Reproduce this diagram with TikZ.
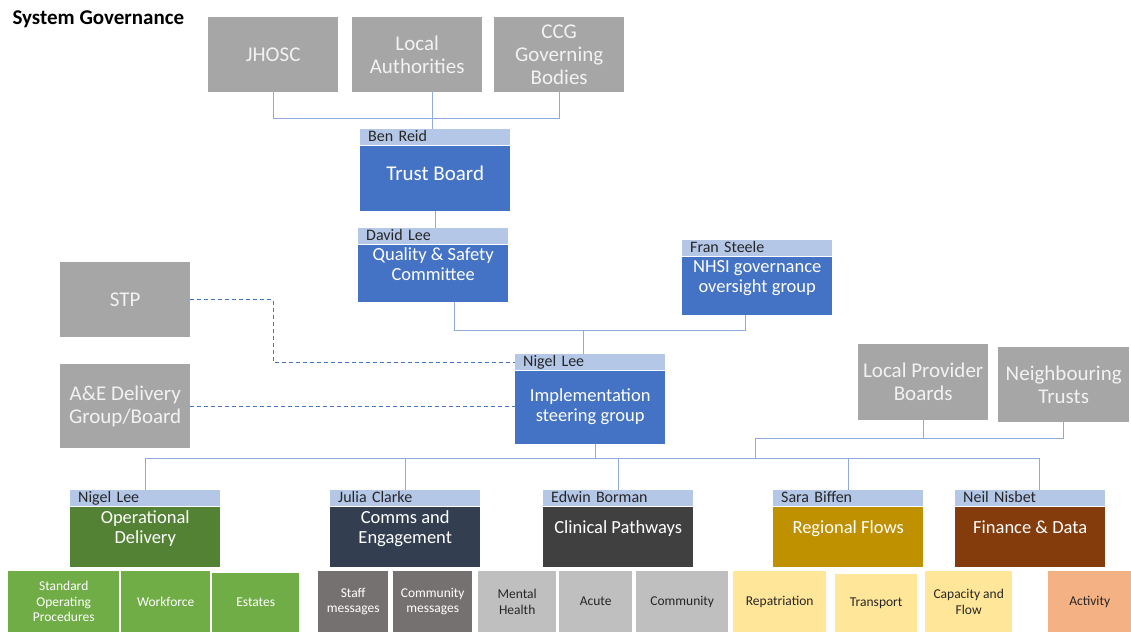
\documentclass[tikz,border=0pt]{standalone}
\usepackage{fontspec}
\setmainfont{Carlito}
\definecolor{boxgray}{HTML}{A6A6A6}
\definecolor{headblue}{HTML}{B4C7E7}
\definecolor{mainblue}{HTML}{4472C4}
\definecolor{linkblue}{HTML}{8FAADC}
\definecolor{opgreen}{HTML}{548235}
\definecolor{commsnavy}{HTML}{333F50}
\definecolor{clingray}{HTML}{404040}
\definecolor{regold}{HTML}{BF9000}
\definecolor{finbrown}{HTML}{843C0C}
\definecolor{subgreen}{HTML}{70AD47}
\definecolor{subdark}{HTML}{767171}
\definecolor{sublight}{HTML}{BFBFBF}
\definecolor{subyellow}{HTML}{FFE699}
\definecolor{suborange}{HTML}{F4B183}
\newcommand\lift[1]{\rule[-#1]{0pt}{#1}}
\tikzset{
  govbox/.style={anchor=north west, fill=boxgray, text=white!95!black, minimum width=130, minimum height=75, inner sep=0, align=center, font=\fontsize{21}{23}\selectfont},
  head/.style={anchor=north west, fill=headblue, text=black!85, text width=134pt, inner xsep=8pt, inner ysep=1pt, text height=11pt, text depth=3pt, align=left, font=\fontsize{16}{17}\selectfont},
  blk/.style={anchor=north west, minimum width=150, inner sep=0, text=white, align=center, font=\fontsize{18.5}{20}\selectfont},
  sub/.style={anchor=north west, fill=#1, minimum height=61, inner sep=0, align=center, text=white, font=\fontsize{13.5}{15.5}\selectfont},
  dark/.style={text=black!85},
  link/.style={draw=linkblue, line width=1pt},
  dlink/.style={draw=mainblue, line width=1pt, dash pattern=on 4pt off 3pt},
}
\begin{document}
\begin{tikzpicture}[x=1pt, y=-1pt]
\useasboundingbox (0,0) rectangle (1131,632);
\node[anchor=west, font=\fontsize{21}{23}\selectfont\bfseries] (title) at (9,19) {System Governance};

\node[govbox] (jhosc) at (208,17) {JHOSC};
\node[govbox] (la) at (352,17) {Local\\Authorities};
\node[govbox] (ccg) at (494,17) {CCG\\Governing\\Bodies};

\node[head] (tb-h) at (360,129) {Ben Reid};
\node[blk, fill=mainblue, minimum height=65, font=\fontsize{21}{23}\selectfont] (tb) at (tb-h.south west) {Trust Board\lift{10pt}};
\node[head] (qs-h) at (358,228) {David Lee};
\node[blk, fill=mainblue, minimum height=57] (qs) at (qs-h.south west) {Quality \& Safety\\Committee\lift{19pt}};
\node[head] (nhsi-h) at (682,240) {Fran Steele};
\node[blk, fill=mainblue, minimum height=58] (nhsi) at (nhsi-h.south west) {NHSI governance\\oversight group\lift{18pt}};
\node[head] (isg-h) at (515,354) {Nigel Lee};
\node[blk, fill=mainblue, minimum height=73] (isg) at (isg-h.south west) {Implementation\\steering group};

\node[govbox] (stp) at (60,262) {STP};
\node[govbox, minimum height=84] (ae) at (60,364) {A\&E Delivery\\Group/Board};
\node[govbox, minimum height=76] (lpb) at (858,344) {Local Provider\\Boards};
\node[govbox, minimum width=131] (nt) at (998,347) {Neighbouring\\Trusts};

\node[head] (od-h) at (70,490) {Nigel Lee};
\node[blk, fill=opgreen, minimum height=60] (od) at (od-h.south west) {Operational\\Delivery\lift{19pt}};
\node[head] (ce-h) at (330,490) {Julia Clarke};
\node[blk, fill=commsnavy, minimum height=60] (ce) at (ce-h.south west) {Comms and\\Engagement\lift{19pt}};
\node[head] (cp-h) at (543,490) {Edwin Borman};
\node[blk, fill=clingray, minimum height=60] (cp) at (cp-h.south west) {Clinical Pathways\lift{19pt}};
\node[head] (rf-h) at (773,490) {Sara Biffen};
\node[blk, fill=regold, minimum height=60] (rf) at (rf-h.south west) {Regional Flows\lift{19pt}};
\node[head] (fd-h) at (955,490) {Neil Nisbet};
\node[blk, fill=finbrown, minimum height=60] (fd) at (fd-h.south west) {Finance \& Data\lift{19pt}};

\node[sub=subgreen, minimum width=111] (sop) at (8,571) {Standard\\Operating\\Procedures};
\node[sub=subgreen, minimum width=89] (wf) at (121,571) {Workforce};
\node[sub=subgreen, minimum width=87, minimum height=59] (est) at (212,573) {Estates};
\node[sub=subdark, minimum width=70] (sm) at (318,571) {Staff\\messages};
\node[sub=subdark, minimum width=79] (cm) at (393,571) {Community\\messages};
\node[sub=sublight, dark, minimum width=78] (mh) at (478,571) {Mental\\Health};
\node[sub=sublight, dark, minimum width=73] (ac) at (559,571) {Acute};
\node[sub=sublight, dark, minimum width=92] (com) at (636,571) {Community};
\node[sub=subyellow, dark, minimum width=93] (rep) at (733,571) {Repatriation};
\node[sub=subyellow, dark, minimum width=82, minimum height=58] (tr) at (835,574) {Transport};
\node[sub=subyellow, dark, minimum width=87] (caf) at (925,571) {Capacity and\\Flow};
\node[sub=suborange, dark, minimum width=83] (act) at (1048,571) {Activity};

\coordinate (topbus) at (0,118);
\draw[link] (jhosc.south) |- (ccg.south |- topbus) -- (ccg.south);
\draw[link] ([xshift=-3]tb-h.north) -- ([xshift=-3]tb-h.north |- la.south);
\draw[link] (tb.south) -- (tb.south |- qs-h.north);
\coordinate (midbus) at (0,330);
\draw[link] ([xshift=21]qs.south) |- ([xshift=-12]nhsi.south |- midbus) -- ([xshift=-12]nhsi.south);
\draw[link] ([xshift=-7]isg-h.north) -- ([xshift=-7]isg-h.north |- midbus);
\draw[dlink] (stp.east) -- ++(83,0) |- (isg-h.west);
\draw[dlink] (ae.east) -- (ae.east -| isg.west);
\coordinate (rbus) at (755,438);
\coordinate (lowbus) at (0,458);
\draw[link] (nt.south) |- (rbus) -- (rbus |- lowbus);
\draw[link] (lpb.south) -- (lpb.south |- rbus);
\draw[link] ([xshift=5]isg.south) -- ([xshift=5]isg.south |- lowbus);
\draw[link] (od-h.north) |- ([xshift=9]fd-h.north |- lowbus) -- ([xshift=9]fd-h.north);
\draw[link] (ce-h.north) -- (ce-h.north |- lowbus);
\draw[link] (cp-h.north) -- (cp-h.north |- lowbus);
\draw[link] (rf-h.north) -- (rf-h.north |- lowbus);
\end{tikzpicture}
\end{document}
